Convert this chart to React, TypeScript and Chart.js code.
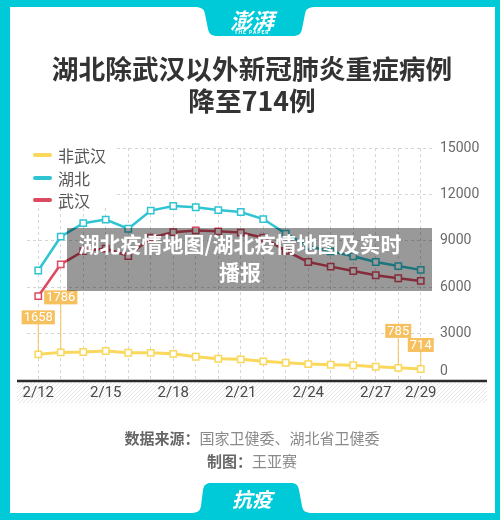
import React, { useEffect, useRef } from "react";
import { Chart, registerables } from "chart.js";

Chart.register(...registerables);

const dates = ["2/12", "2/13", "2/14", "2/15", "2/16", "2/17", "2/18", "2/19", "2/20", "2/21", "2/22", "2/23", "2/24", "2/25", "2/26", "2/27", "2/28", "2/29"];
const tickDates = ["2/12", "2/15", "2/18", "2/21", "2/24", "2/27", "2/29"];
const nonWuhan = [1658, 1786, 1810, 1875, 1760, 1755, 1690, 1500, 1375, 1335, 1205, 1115, 1030, 985, 950, 860, 785, 714];
const hubei = [7078, 9266, 10140, 10370, 9780, 10955, 11250, 11170, 10985, 10865, 10405, 9465, 8660, 8315, 8000, 7630, 7365, 7120];
const wuhan = [5420, 7480, 8330, 8495, 8020, 9200, 9560, 9670, 9610, 9530, 9200, 8350, 7630, 7330, 7050, 6770, 6580, 6406];
const yTicks = [0, 3000, 6000, 9000, 12000, 15000];
const labelledDates = ["2/12", "2/13", "2/28", "2/29"];

const seriesNames = ["非武汉", "湖北", "武汉"];
const TEAL = "#00C9D8";
const COLORS = ["#F9D85C", "#2EC4D2", "#DC4A60"];
const LABEL_BG = "#F6C05E";
const LABEL_LIFT = [30, 48, 30, 17];

const extrasPlugin = {
  id: "extras",
  beforeDraw(chart: any) {
    const ctx = chart.ctx;
    const x0 = 17, x1 = 487, y0 = 382, y1 = 403;
    ctx.save();
    ctx.beginPath();
    ctx.rect(x0, y0, x1 - x0, y1 - y0);
    ctx.clip();
    ctx.strokeStyle = "#e6e6e6";
    ctx.lineWidth = 1;
    for (let x = x0 - 30; x < x1 + 30; x += 4) {
      ctx.beginPath();
      ctx.moveTo(x, y1);
      ctx.lineTo(x + (y1 - y0), y0);
      ctx.stroke();
    }
    ctx.restore();
  },
  beforeDatasetsDraw(chart: any) {
    const ctx = chart.ctx;
    const y = chart.scales.y.getPixelForValue(0) + 1;
    ctx.save();
    ctx.strokeStyle = "#2b2b2b";
    ctx.lineWidth = 2.5;
    ctx.beginPath();
    ctx.moveTo(17, y);
    ctx.lineTo(487, y);
    ctx.stroke();
    ctx.restore();
  },
  afterDatasetsDraw(chart: any) {
    const ctx = chart.ctx;
    const meta = chart.getDatasetMeta(0);
    ctx.save();
    ctx.font = '13px Roboto, "Noto Sans", sans-serif';
    ctx.textAlign = "center";
    ctx.textBaseline = "middle";
    labelledDates.forEach((d, k) => {
      const i = dates.indexOf(d);
      const pt = meta.data[i];
      const text = String(nonWuhan[i]);
      const w = ctx.measureText(text).width + 4;
      const h = 14;
      const bottom = pt.y - LABEL_LIFT[k];
      ctx.strokeStyle = LABEL_BG;
      ctx.lineWidth = 1;
      ctx.beginPath();
      ctx.moveTo(pt.x, bottom);
      ctx.lineTo(pt.x, pt.y - 3);
      ctx.stroke();
      ctx.fillStyle = LABEL_BG;
      ctx.fillRect(pt.x - w / 2, bottom - h, w, h);
      ctx.fillStyle = "#ffffff";
      ctx.fillText(text, pt.x, bottom - h / 2 + 0.5);
    });
    ctx.restore();
  },
};

export default function App() {
  const ref = useRef<HTMLCanvasElement | null>(null);

  useEffect(() => {
    if (!ref.current) return;
    const mk = (label: string, data: number[], color: string, width: number) => ({
      label,
      data,
      borderColor: color,
      backgroundColor: "#ffffff",
      borderWidth: width,
      pointStyle: "rect",
      pointRadius: 4.5,
      pointBorderWidth: 1.5,
      pointBackgroundColor: "#ffffff",
      pointBorderColor: color,
      tension: 0,
      fill: false,
    });
    const chart = new Chart(ref.current, {
      type: "line",
      data: {
        labels: dates,
        datasets: [
          mk(seriesNames[0], nonWuhan, COLORS[0], 3),
          mk(seriesNames[1], hubei, COLORS[1], 2.5),
          mk(seriesNames[2], wuhan, COLORS[2], 2.5),
        ],
      },
      options: {
        animation: false,
        responsive: false,
        events: [],
        layout: { padding: { left: 27, top: 148, right: 0, bottom: 0 } },
        plugins: { legend: { display: false }, tooltip: { enabled: false } },
        scales: {
          x: {
            type: "category",
            offset: true,
            grid: { color: "#d6d6d6", lineWidth: 1, drawTicks: false },
            border: { display: false, dash: [3, 3] },
            ticks: {
              autoSkip: false,
              maxRotation: 0,
              padding: 4,
              color: "#4a4a4a",
              font: { size: 15, family: 'Roboto, "Noto Sans", sans-serif' },
              callback: (_v: any, idx: number) => (tickDates.includes(dates[idx]) ? dates[idx] : ""),
            },
            afterFit: (s: any) => {
              s.height = 140;
            },
          },
          y: {
            position: "right",
            min: 0,
            max: 15000,
            afterBuildTicks: (s: any) => {
              s.ticks = yTicks.map((v) => ({ value: v }));
            },
            grid: { color: "#d6d6d6", lineWidth: 1, drawTicks: false },
            border: { display: false, dash: [3, 3] },
            ticks: {
              padding: 8,
              color: "#6a6a6a",
              font: { size: 14, family: 'Roboto, "Noto Sans", sans-serif' },
              callback: (v: any) => (v === 0 ? ["0", ""] : String(v)),
            },
            afterFit: (s: any) => {
              s.width = 68;
            },
          },
        },
      },
      plugins: [extrasPlugin],
    } as any);
    return () => chart.destroy();
  }, []);

  const cjk = '"Noto Sans CJK SC", "Noto Sans", sans-serif';

  return (
    <div style={{ position: "fixed", left: 0, top: 0, width: 500, height: 520, background: TEAL, overflow: "hidden", fontFamily: cjk }}>
      <div style={{ position: "absolute", left: 10, top: 7, width: 485, height: 506, background: "#ffffff" }} />
      <canvas ref={ref} width={500} height={520} style={{ position: "absolute", left: 0, top: 0, width: 500, height: 520 }} />
      <svg width={500} height={520} style={{ position: "absolute", left: 0, top: 0, pointerEvents: "none" }}>
        <path d="M194 7 C202 7 204 9 205 14 L208 29 C209 34 212 36 217 36 L293 36 C298 36 301 34 302 29 L305 14 C306 9 308 7 316 7 Z" fill={TEAL} />
        <path d="M190 513 C198 513 200 511 201 506 L203 490 C204 485 206 483 211 483 L291 483 C296 483 298 485 299 490 L302 506 C303 511 305 513 313 513 Z" fill={TEAL} />
      </svg>
      <div style={{ position: "absolute", left: 200, width: 104, top: 6, textAlign: "center", color: "#fff", fontSize: 22, lineHeight: "26px", fontWeight: 700, fontStyle: "italic" }}>澎湃</div>
      <div style={{ position: "absolute", left: 200, width: 104, top: 29, textAlign: "center", color: "#fff", fontSize: 5, lineHeight: "6px", letterSpacing: 1, fontFamily: "Roboto, sans-serif", fontWeight: 700 }}>THE PAPER</div>
      <div style={{ position: "absolute", left: 0, width: 504, top: 52, textAlign: "center", color: "#333333", fontSize: 26.7, lineHeight: "32px", fontWeight: 700 }}>
        湖北除武汉以外新冠肺炎重症病例
        <br />
        降至714例
      </div>
      <div style={{ position: "absolute", left: 27, top: 142, width: 90, height: 66, background: "#ffffff" }}>
        {seriesNames.map((n, i) => (
          <div key={n} style={{ position: "absolute", left: 0, top: 2 + i * 22.5, height: 22, width: 90 }}>
            <div style={{ position: "absolute", left: 6, top: 9, width: 19, height: 4, borderRadius: 2, background: COLORS[i] }} />
            <div style={{ position: "absolute", left: 31, top: 0, fontSize: 16, lineHeight: "22px", color: "#555555" }}>{n}</div>
          </div>
        ))}
      </div>
      <div style={{ position: "absolute", left: 67, top: 228, width: 365, height: 63, background: "rgba(0,0,0,0.4)" }} />
      <div style={{ position: "absolute", left: 0, width: 480, top: 229, textAlign: "center", color: "#ffffff", fontSize: 21, lineHeight: "28px", fontWeight: 700 }}>
        湖北疫情地图/湖北疫情地图及实时
        <br />
        播报
      </div>
      <div style={{ position: "absolute", left: 0, width: 504, top: 426, textAlign: "center", fontSize: 15, lineHeight: "23px" }}>
        <div>
          <span style={{ color: "#666666", fontWeight: 700 }}>数据来源：</span>
          <span style={{ color: "#8a8a8a" }}>国家卫健委、湖北省卫健委</span>
        </div>
        <div>
          <span style={{ color: "#666666", fontWeight: 700 }}>制图：</span>
          <span style={{ color: "#8a8a8a" }}>王亚赛</span>
        </div>
      </div>
      <div style={{ position: "absolute", left: 200, width: 104, top: 486, textAlign: "center", color: "#ffffff", fontSize: 20, lineHeight: "26px", fontWeight: 700, fontStyle: "italic" }}>抗疫</div>
    </div>
  );
}
